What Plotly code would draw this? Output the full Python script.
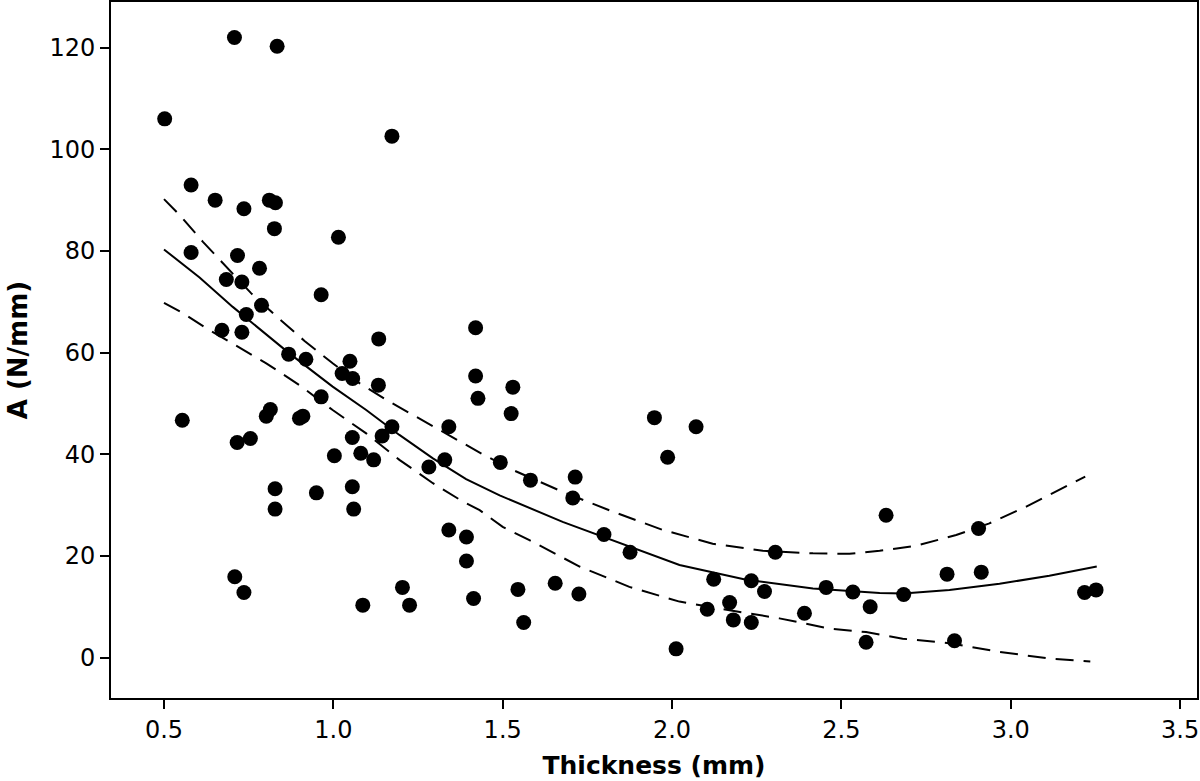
import plotly.graph_objects as go

# Scatter data
thickness = [0.708, 0.834, 0.502, 1.173, 0.580, 0.651, 0.736, 0.811, 0.829, 0.826,
             1.015, 0.580, 0.717, 0.782, 0.684, 0.730, 0.964, 0.788, 0.743, 0.671,
             0.730, 1.420, 1.134, 0.868, 0.919, 1.049, 1.026, 1.057, 1.133, 1.420,
             1.427, 0.964, 0.554, 0.814, 0.802, 0.910, 0.900, 1.341, 1.173, 1.144,
             1.056, 0.716, 0.755, 1.003, 1.081, 1.119, 1.282, 1.329, 1.493, 0.828,
             0.950, 1.056, 0.828, 1.060, 1.341, 1.393, 1.393, 0.709, 0.736, 1.087,
             1.204, 1.225, 1.414, 1.530, 1.525, 1.948, 2.071, 1.987, 1.582, 1.714,
             1.707, 1.799, 1.876, 2.305, 2.123, 2.234, 2.273, 2.455, 2.534, 2.585,
             2.573, 2.170, 2.104, 2.181, 2.234, 2.391, 2.012, 1.545, 1.655, 1.725,
             1.562, 2.632, 2.905, 2.812, 2.913, 2.684, 2.834, 3.218, 3.252]
a_values = [122.0, 120.3, 106.0, 102.6, 93.0, 90.0, 88.3, 90.0, 89.5, 84.4,
            82.7, 79.7, 79.1, 76.6, 74.4, 73.9, 71.4, 69.3, 67.5, 64.4,
            64.0, 64.9, 62.7, 59.7, 58.7, 58.3, 55.9, 54.9, 53.6, 55.4,
            51.0, 51.3, 46.7, 48.8, 47.5, 47.5, 47.1, 45.4, 45.4, 43.6,
            43.3, 42.3, 43.1, 39.7, 40.2, 38.9, 37.5, 38.9, 38.4, 33.2,
            32.4, 33.6, 29.2, 29.2, 25.1, 23.7, 19.0, 15.9, 12.8, 10.3,
            13.8, 10.3, 11.6, 53.2, 48.0, 47.2, 45.4, 39.4, 34.9, 35.5,
            31.4, 24.2, 20.7, 20.7, 15.4, 15.1, 13.0, 13.8, 12.9, 10.0,
            3.0, 10.8, 9.5, 7.4, 6.9, 8.7, 1.7, 13.4, 14.6, 12.5,
            6.9, 28.0, 25.4, 16.4, 16.8, 12.4, 3.3, 12.8, 13.3]

# Fitted curve (solid)
fit_x = [0.50, 0.605, 0.703, 0.802, 0.871, 0.998, 1.097, 1.195, 1.294, 1.392,
         1.491, 1.677, 1.825, 2.022, 2.219, 2.416, 2.613, 2.683, 2.819, 2.967,
         3.114, 3.254]
fit_y = [80.3, 74.8, 69.0, 63.6, 59.8, 53.3, 48.7, 43.8, 39.2, 35.1,
         31.9, 26.7, 23.1, 18.2, 15.3, 13.6, 12.7, 12.6, 13.3, 14.5,
         16.1, 17.9]

# Upper confidence band (dashed)
upper_x = [0.50, 0.546, 0.615, 0.688, 0.757, 0.836, 0.915, 0.998, 1.077, 1.156,
           1.254, 1.343, 1.441, 1.530, 1.677, 1.825, 1.973, 2.120, 2.268, 2.416,
           2.524, 2.613, 2.721, 2.839, 2.937, 3.046, 3.144, 3.22]
upper_y = [90.2, 87.1, 81.8, 76.6, 71.7, 66.9, 62.3, 57.9, 54.0, 50.7,
           47.0, 43.6, 40.0, 36.9, 32.6, 28.7, 25.1, 22.4, 21.0, 20.5,
           20.4, 21.0, 22.0, 24.1, 26.4, 29.7, 33.0, 35.6]

# Lower confidence band (dashed)
lower_x = [0.50, 0.555, 0.625, 0.703, 0.802, 0.900, 0.998, 1.097, 1.195, 1.294,
           1.382, 1.432, 1.500, 1.579, 1.727, 1.874, 2.022, 2.170, 2.317, 2.465,
           2.573, 2.681, 2.819, 2.967, 3.114, 3.235]
lower_y = [69.8, 67.8, 64.8, 61.8, 57.9, 53.6, 48.7, 44.1, 38.9, 34.3,
           30.7, 29.0, 25.7, 23.1, 17.9, 13.9, 11.0, 9.3, 7.7, 5.7,
           5.0, 3.7, 2.8, 1.1, -0.2, -0.8]

x_ticks = [0.5, 1.0, 1.5, 2.0, 2.5, 3.0, 3.5]
x_tick_labels = ["0.5", "1.0", "1.5", "2.0", "2.5", "3.0", "3.5"]
y_ticks = [0, 20, 40, 60, 80, 100, 120]
y_tick_labels = ["0", "20", "40", "60", "80", "100", "120"]

FONT = "DejaVu Sans, Verdana, sans-serif"

fig = go.Figure()
fig.add_trace(go.Scatter(x=thickness, y=a_values, mode="markers",
                         marker=dict(color="black", size=15, line=dict(width=0)),
                         showlegend=False))
fig.add_trace(go.Scatter(x=fit_x, y=fit_y, mode="lines",
                         line=dict(color="black", width=2), showlegend=False))
fig.add_trace(go.Scatter(x=upper_x, y=upper_y, mode="lines",
                         line=dict(color="black", width=2, dash="18px,10px"),
                         showlegend=False))
fig.add_trace(go.Scatter(x=lower_x, y=lower_y, mode="lines",
                         line=dict(color="black", width=2, dash="18px,10px"),
                         showlegend=False))

axis_common = dict(showgrid=False, zeroline=False, showline=True, mirror=True,
                   linecolor="black", linewidth=2, ticks="outside", ticklen=9,
                   tickwidth=2, tickcolor="black", automargin=False,
                   tickfont=dict(family=FONT, size=24, color="black"))

fig.update_layout(
    width=1200, height=781,
    margin=dict(l=111, r=3, t=2, b=83),
    paper_bgcolor="white", plot_bgcolor="white",
    font=dict(family=FONT, color="black"),
    xaxis=dict(range=[0.3435, 3.550], tickvals=x_ticks, ticktext=x_tick_labels,
               title=dict(text="Thickness (mm)", standoff=14,
                          font=dict(family=FONT, size=25, color="black", weight="bold")),
               **axis_common),
    yaxis=dict(range=[-7.97, 129.0], tickvals=y_ticks, ticktext=y_tick_labels,
               title=dict(text="A (N/mm)", standoff=14,
                          font=dict(family=FONT, size=26, color="black", weight="bold")),
               **axis_common),
)

fig.write_html("out.html",
               config={"displayModeBar": False},
               post_script="document.body.style.margin='0';document.body.style.padding='0';")
